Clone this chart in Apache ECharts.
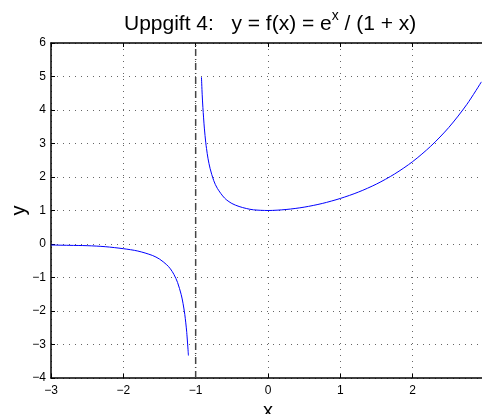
<!DOCTYPE html>
<html>
<head>
<meta charset="utf-8">
<script src="https://cdn.jsdelivr.net/npm/echarts@6/dist/echarts.min.js"></script>
<style>
  html, body { margin: 0; padding: 0; background: #fff; }
  #chart { width: 482px; height: 414px; }
</style>
</head>
<body>
<div id="chart"></div>
<script>
// values
const leftX = [-3, -2.75, -2.5, -2.25, -2, -1.8, -1.6, -1.5, -1.4, -1.35, -1.3, -1.25, -1.2, -1.175, -1.15, -1.125, -1.1]
const leftY = [-0.03, -0.04, -0.05, -0.08, -0.14, -0.21, -0.34, -0.45, -0.62, -0.74, -0.91, -1.15, -1.51, -1.77, -2.11, -2.6, -3.33]
const rightX = [-0.92, -0.91, -0.9, -0.88, -0.86, -0.85, -0.83, -0.8, -0.75, -0.7, -0.6, -0.5, -0.4, -0.3, -0.2, 0, 0.25, 0.5, 0.75, 1, 1.25, 1.5, 1.75, 2, 2.25, 2.5, 2.75, 2.95]
const rightY = [4.98, 4.47, 4.07, 3.46, 3.02, 2.85, 2.56, 2.25, 1.89, 1.66, 1.37, 1.21, 1.12, 1.06, 1.02, 1.0, 1.03, 1.1, 1.21, 1.36, 1.55, 1.79, 2.09, 2.46, 2.92, 3.48, 4.17, 4.84]
const asymptoteX = [-1, -1]
const asymptoteY = [-4, 6]

const xTicks = [-3, -2, -1, 0, 1, 2]
const yTicks = [-4, -3, -2, -1, 0, 1, 2, 3, 4, 5, 6]

const FONT = 'Liberation Sans, Arial, Helvetica, sans-serif'
const zip = (xs, ys) => xs.map((x, i) => [x, ys[i]])
const minus = v => String(v).replace('-', '\u2212')

const gridLine = { show: true, lineStyle: { color: '#666', type: [1, 5], width: 1 } }
const frame = { show: true, onZero: false, lineStyle: { color: '#000', width: 1.5 } }
const ticks = { show: true, inside: true, length: 4, lineStyle: { color: '#000' } }

const chart = echarts.init(document.getElementById('chart'), null, { renderer: 'canvas' })

chart.setOption({
  animation: false,
  backgroundColor: '#fff',
  title: {
    text: '{t|Uppgift 4:   y = f(x) = e}{s|x}{t| / (1 + x)}',
    left: 119,
    top: 4,
    textStyle: {
      fontWeight: 'normal',
      rich: {
        t: { fontFamily: FONT, fontSize: 21, fontWeight: 'normal', color: '#000', verticalAlign: 'bottom' },
        s: { fontFamily: FONT, fontSize: 14, fontWeight: 'normal', color: '#000', verticalAlign: 'top', padding: [0, 0, 12, 0] },
      },
    },
  },
  grid: { left: 51, right: -3, top: 43, bottom: 36, containLabel: false, outerBoundsMode: 'none' },
  xAxis: [
    {
      type: 'value', min: -3, max: 3, interval: 1,
      axisLine: frame,
      axisTick: ticks,
      axisLabel: {
        color: '#000', fontFamily: FONT, fontSize: 12, margin: 7,
        formatter: v => xTicks.includes(v) ? minus(v) : '',
      },
      splitLine: gridLine,
      name: 'x', nameLocation: 'middle', nameGap: 23, nameMoveOverlap: false,
      nameTextStyle: { color: '#000', fontFamily: FONT, fontSize: 20 },
    },
    {
      type: 'value', position: 'top', min: -3, max: 3, interval: 1,
      axisLine: frame,
      axisTick: ticks,
      axisLabel: { show: false },
      splitLine: { show: false },
    },
  ],
  yAxis: [
    {
      type: 'value', min: -4, max: 6, interval: 1,
      axisLine: frame,
      axisTick: ticks,
      axisLabel: {
        color: '#000', fontFamily: FONT, fontSize: 12, margin: 5,
        formatter: v => yTicks.includes(v) ? minus(v) : '',
      },
      splitLine: gridLine,
      name: 'y', nameLocation: 'middle', nameGap: 22, nameRotate: 90, nameMoveOverlap: false,
      nameTextStyle: { color: '#000', fontFamily: FONT, fontSize: 20 },
    },
  ],
  series: [
    {
      type: 'line', data: zip(asymptoteX, asymptoteY), symbol: 'none',
      lineStyle: { color: '#444', width: 1.5, type: [7, 3, 1, 3] },
    },
    {
      type: 'line', data: zip(leftX, leftY), symbol: 'none', smooth: 0.3,
      lineStyle: { color: '#0000ff', width: 1 },
    },
    {
      type: 'line', data: zip(rightX, rightY), symbol: 'none', smooth: 0.3,
      lineStyle: { color: '#0000ff', width: 1 },
    },
  ],
})
</script>
</body>
</html>
